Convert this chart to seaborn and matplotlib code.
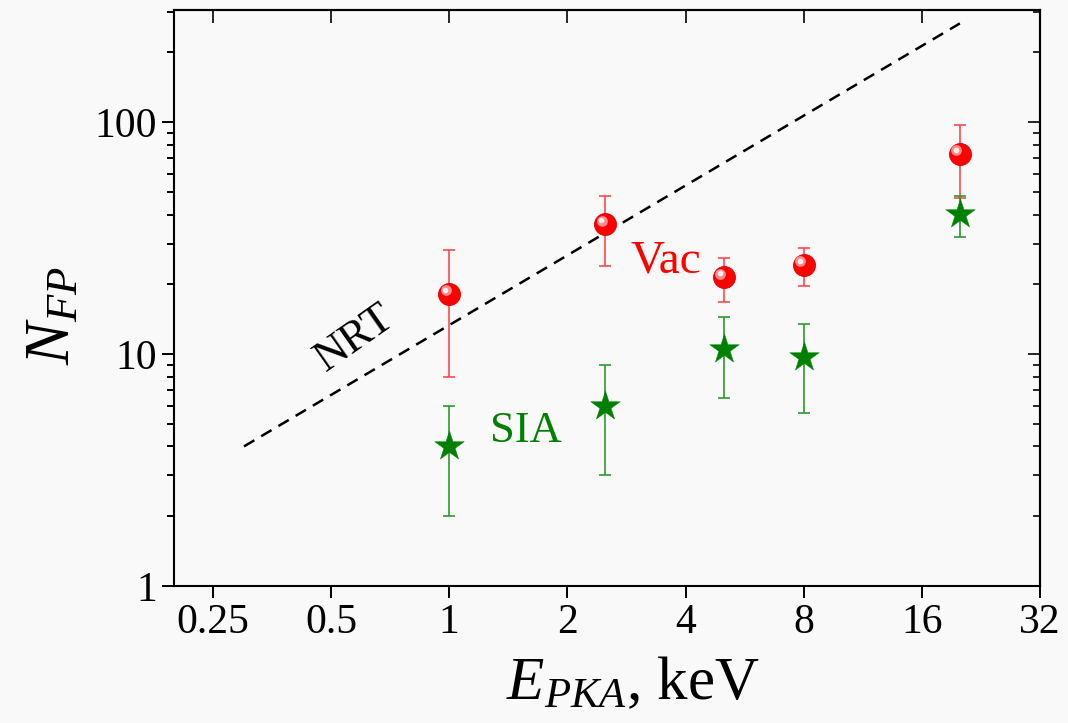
import numpy as np
import pandas as pd
import matplotlib
matplotlib.use("Agg")
import matplotlib.pyplot as plt
import matplotlib.transforms as mtransforms
from matplotlib.ticker import FixedLocator, NullLocator, LogLocator, NullFormatter, FixedFormatter
import seaborn as sns

# ---- data ----
energy = [1.0, 2.5, 5.0, 8.0, 20.0]
vac = [18.2, 36.4, 21.5, 24.3, 73.0]
vac_hi = [28.1, 48.2, 25.9, 28.8, 97.3]
vac_lo = [8.0, 24.0, 16.8, 19.7, 47.2]
sia = [4.0, 6.0, 10.5, 9.7, 40.1]
sia_hi = [6.0, 9.0, 14.5, 13.5, 48.1]
sia_lo = [2.0, 3.0, 6.5, 5.6, 32.1]
nrt_x = [0.3, 20.0]
nrt_y = [4.0, 267.0]
xticks = [0.25, 0.5, 1, 2, 4, 8, 16, 32]
xtick_labels = ["0.25", "0.5", "1", "2", "4", "8", "16", "32"]
yticks = [1, 10, 100]
ytick_labels = ["1", "10", "100"]

BG = "#f9f9f9"
RED = "#ff0000"
RED_EB = "#ff4a4a"
GREEN = "#008000"
GREEN_EB = "#2f9a2f"

sns.set_theme(style="ticks")
plt.rcParams["font.family"] = ["Liberation Serif", "DejaVu Serif"]
plt.rcParams["mathtext.fontset"] = "custom"
plt.rcParams["mathtext.rm"] = "Liberation Serif"
plt.rcParams["mathtext.it"] = "Liberation Serif:italic"
plt.rcParams["mathtext.bf"] = "Liberation Serif:bold"

df_vac = pd.DataFrame({"E": energy, "N": vac, "lo": vac_lo, "hi": vac_hi})
df_sia = pd.DataFrame({"E": energy, "N": sia, "lo": sia_lo, "hi": sia_hi})
df_nrt = pd.DataFrame({"E": nrt_x, "N": nrt_y})

fig = plt.figure(figsize=(10.68, 7.23), dpi=100, facecolor=BG)
ax = fig.add_axes([174 / 1068, 1 - 586 / 723, (1040 - 174) / 1068, (586 - 10) / 723])
ax.set_facecolor(BG)
ax.set_xscale("log", base=2)
ax.set_yscale("log")
ax.set_xlim(0.199, 32)
ax.set_ylim(1, 305)

# NRT line
sns.lineplot(data=df_nrt, x="E", y="N", ax=ax, color="black", lw=1.8,
             dashes=False, zorder=2)
ax.lines[-1].set_dashes((4.8, 3.2))

# error bars
ax.errorbar(df_vac["E"], df_vac["N"],
            yerr=[df_vac["N"] - df_vac["lo"], df_vac["hi"] - df_vac["N"]],
            fmt="none", ecolor=RED_EB, elinewidth=1.2, capsize=4.5, capthick=1.2, zorder=3)
ax.errorbar(df_sia["E"], df_sia["N"],
            yerr=[df_sia["N"] - df_sia["lo"], df_sia["hi"] - df_sia["N"]],
            fmt="none", ecolor=GREEN_EB, elinewidth=1.2, capsize=4.5, capthick=1.2, zorder=3)

# markers: SIA stars
sns.scatterplot(data=df_sia, x="E", y="N", ax=ax, marker="*", s=500, color=GREEN,
                edgecolor=GREEN, linewidth=0.3, zorder=5, legend=False)

# markers: Vac balls (red sphere with a highlight)
sns.scatterplot(data=df_vac, x="E", y="N", ax=ax, marker="o", s=250, color=RED,
                edgecolor="#e00000", linewidth=0.6, zorder=6, legend=False)
off1 = mtransforms.ScaledTranslation(-3.5 / 100, 3.5 / 100, fig.dpi_scale_trans)
off2 = mtransforms.ScaledTranslation(-4.0 / 100, 4.0 / 100, fig.dpi_scale_trans)
sns.scatterplot(data=df_vac, x="E", y="N", ax=ax, marker="o", s=60, color="#ff8c8c",
                linewidth=0, zorder=7, legend=False)
ax.collections[-1].set_offset_transform(ax.transData + off1)
sns.scatterplot(data=df_vac, x="E", y="N", ax=ax, marker="o", s=16, color="#fff0f0",
                linewidth=0, zorder=8, legend=False)
ax.collections[-1].set_offset_transform(ax.transData + off2)

# annotations
ax.text(0.574, 11.7, "NRT", rotation=35, ha="center", va="center",
        rotation_mode="anchor", fontsize=32, color="black")
ax.text(2.89, 22.4, "Vac", ha="left", va="baseline", fontsize=34, color=RED)
ax.text(1.27, 4.19, "SIA", ha="left", va="baseline", fontsize=32, color=GREEN)

# ticks
ax.xaxis.set_major_locator(FixedLocator(xticks))
ax.xaxis.set_major_formatter(FixedFormatter(xtick_labels))
ax.xaxis.set_minor_locator(NullLocator())
ax.yaxis.set_major_locator(FixedLocator(yticks))
ax.yaxis.set_major_formatter(FixedFormatter(ytick_labels))
ax.yaxis.set_minor_locator(LogLocator(base=10, subs=np.arange(2, 10)))
ax.yaxis.set_minor_formatter(NullFormatter())
ax.tick_params(which="major", direction="out", length=8.5, width=1.4, labelsize=30,
               colors="black", pad=4)
ax.tick_params(which="minor", direction="out", length=4.8, width=1.4, colors="black")

# mirrored inward ticks on top and right
sx = ax.secondary_xaxis("top")
sx.xaxis.set_major_locator(FixedLocator(xticks))
sx.xaxis.set_minor_locator(NullLocator())
sx.tick_params(which="major", direction="in", length=9, width=1.4, labeltop=False)
sy = ax.secondary_yaxis("right")
sy.yaxis.set_major_locator(FixedLocator(yticks))
sy.yaxis.set_minor_locator(LogLocator(base=10, subs=np.arange(2, 10)))
sy.yaxis.set_minor_formatter(NullFormatter())
sy.tick_params(which="major", direction="in", length=9, width=1.4, labelright=False)
sy.tick_params(which="minor", direction="in", length=5, width=1.4, labelright=False)
for s in (sx, sy):
    for sp in s.spines.values():
        sp.set_linewidth(1.5)
        sp.set_color("black")

for sp in ax.spines.values():
    sp.set_visible(True)
    sp.set_linewidth(1.5)
    sp.set_color("black")

ax.set_xlabel("$E_{PKA}$, keV", fontsize=44, color="black", labelpad=0)
ax.set_ylabel("$N_{FP}$", fontsize=46, color="black", labelpad=8)
ax.xaxis.set_label_coords(0.53, -0.12)
ax.yaxis.set_label_coords(-0.105, 0.47)

fig.savefig("out.png", dpi=100, facecolor=BG)
